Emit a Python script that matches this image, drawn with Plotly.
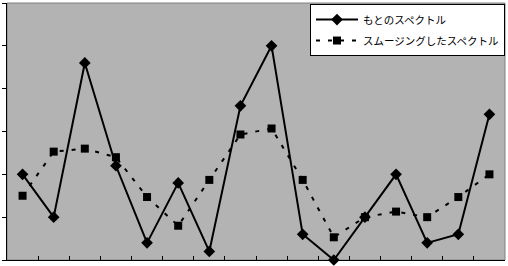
import plotly.graph_objects as go

x_vals = list(range(1, 17))
original = [2.0, 1.0, 4.6, 2.2, 0.4, 1.8, 0.2, 3.6, 5.0, 0.6, 0.0, 1.0, 2.0, 0.4, 0.6, 3.4]
smoothed = [1.5, 2.53, 2.6, 2.4, 1.47, 0.8, 1.87, 2.93, 3.07, 1.87, 0.53, 1.0, 1.13, 1.0, 1.47, 2.0]
names = ["もとのスペクトル", "スムージングしたスペクトル"]

fig = go.Figure()
fig.add_trace(go.Scatter(
    x=x_vals, y=original, name=names[0], mode="lines+markers",
    legendgroup="a",
    line=dict(color="black", width=2),
    marker=dict(symbol="diamond", size=9, color="black"),
    cliponaxis=False,
))
fig.add_trace(go.Scatter(
    x=x_vals, y=smoothed, name=names[1], mode="lines+markers",
    legendgroup="b",
    line=dict(color="black", width=2, dash="4px,8px"),
    marker=dict(symbol="square", size=8, color="black"),
    cliponaxis=False,
))

fig.add_shape(type="rect", xref="paper", yref="paper", x0=0, x1=1, y0=0, y1=1,
              line=dict(color="#808080", width=1), layer="below")

fig.update_layout(
    width=508, height=266,
    margin=dict(l=4, r=3, t=3, b=6),
    paper_bgcolor="white",
    plot_bgcolor="#b3b3b3",
    showlegend=True,
    legend=dict(
        x=1, xanchor="right", y=0.996, yanchor="top",
        bgcolor="white", bordercolor="black", borderwidth=1,
        font=dict(family="Noto Sans CJK JP", size=10.5, color="black"),
        itemwidth=42, traceorder="grouped", tracegroupgap=2,
    ),
    font=dict(family="Noto Sans CJK JP", size=10.5, color="black"),
)
fig.update_xaxes(
    range=[0.5, 16.5], showgrid=False, zeroline=False,
    showline=True, linecolor="black", linewidth=1,
    tickvals=[i + 0.5 for i in range(0, 17)], ticks="inside", ticklen=4,
    tickcolor="black", showticklabels=False,
)
fig.update_yaxes(
    range=[0, 6], showgrid=False, zeroline=False,
    showline=True, linecolor="black", linewidth=1,
    tickvals=[0, 1, 2, 3, 4, 5, 6], ticks="outside", ticklen=4,
    tickcolor="black", showticklabels=False,
)

fig.write_html("out.html")
